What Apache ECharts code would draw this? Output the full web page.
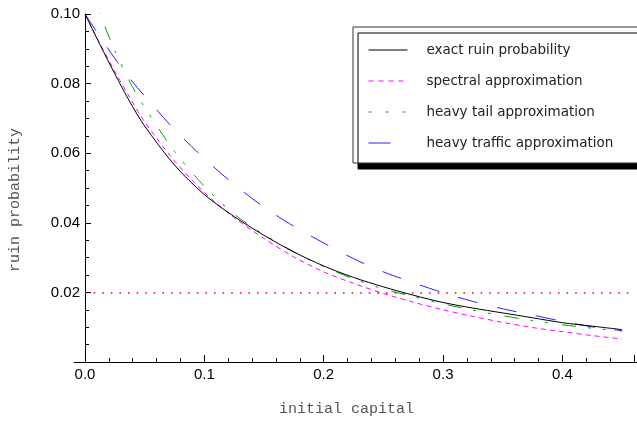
<!DOCTYPE html>
<html>
<head>
<meta charset="utf-8">
<script src="https://cdn.jsdelivr.net/npm/echarts@6/dist/echarts.min.js"></script>
<style>
html,body{margin:0;padding:0;background:#fff;}
#chart{width:637px;height:422px;}
</style>
</head>
<body>
<div id="chart"></div>
<script>
// ---- data ----
const capital = [0, 0.0125, 0.025, 0.0375, 0.05, 0.075, 0.1, 0.125, 0.15, 0.175, 0.2, 0.225, 0.25, 0.275, 0.3, 0.325, 0.35, 0.375, 0.4, 0.425, 0.45];
const exactRuin = [0.1, 0.0912, 0.0828, 0.0748, 0.0678, 0.0566, 0.0481, 0.0418, 0.0364, 0.0316, 0.0276, 0.0243, 0.0216, 0.0192, 0.0171, 0.0155, 0.0141, 0.0127, 0.0113, 0.0103, 0.0093];
const spectralApprox = [0.1, 0.0915, 0.0835, 0.076, 0.069, 0.0578, 0.0487, 0.0415, 0.0355, 0.0302, 0.0259, 0.0226, 0.0197, 0.0172, 0.015, 0.0131, 0.0114, 0.0099, 0.0087, 0.0076, 0.0066];
const heavyTailApprox = [0.112, 0.1, 0.0895, 0.0805, 0.0732, 0.0605, 0.0505, 0.0425, 0.0366, 0.0317, 0.0274, 0.0239, 0.021, 0.0188, 0.0167, 0.0149, 0.0133, 0.0119, 0.0107, 0.0097, 0.0089];
const heavyTrafficApprox = [0.1, 0.0935, 0.0872, 0.0815, 0.0764, 0.0668, 0.0585, 0.051, 0.0445, 0.039, 0.0342, 0.0297, 0.0259, 0.0228, 0.0199, 0.0174, 0.0153, 0.0135, 0.0117, 0.0101, 0.009];
const seriesNames = ['exact ruin probability', 'spectral approximation', 'heavy tail approximation', 'heavy traffic approximation'];
const threshold = 0.02;
const xTickLabels = ['0.0', '0.1', '0.2', '0.3', '0.4'];
const yTickLabels = ['0.02', '0.04', '0.06', '0.08', '0.10'];

function pairs(ys){ return capital.map((x,i)=>[x, ys[i]]); }

const chart = echarts.init(document.getElementById('chart'), null, {renderer:'canvas'});
const tickFont = {fontFamily:'Liberation Sans', fontSize:15, color:'#000'};
const nameFont = {fontFamily:'Liberation Mono', fontSize:15, color:'#555'};
const hideSym = {opacity:0, borderWidth:0};

chart.setOption({
  animation:false,
  backgroundColor:'#fff',
  grid:[
    {left:85, right:0, top:14, bottom:60, containLabel:false},
    {left:74, right:0, top:14, bottom:60, containLabel:false}
  ],
  xAxis:[{
    type:'value', gridIndex:0, min:0, max:0.46, interval:0.1,
    name:'initial capital', nameLocation:'middle', nameGap:40,
    nameTextStyle:Object.assign({padding:[0,26,0,0]}, nameFont),
    axisLine:{show:false},
    axisTick:{show:true, inside:true, length:7, lineStyle:{color:'#000'}},
    minorTick:{show:true, splitNumber:5, length:4, lineStyle:{color:'#000'}},
    splitLine:{show:false}, minorSplitLine:{show:false},
    axisLabel:Object.assign({margin:5, formatter:function(v){
      const i = Math.round(v*10);
      return (Math.abs(v*10 - i) < 1e-6 && i < xTickLabels.length) ? xTickLabels[i] : '';
    }}, tickFont)
  },{
    type:'value', gridIndex:1, min:0, max:1,
    axisLine:{show:true, lineStyle:{color:'#000', width:1}},
    axisTick:{show:false}, axisLabel:{show:false}, splitLine:{show:false}
  }],
  yAxis:[{
    type:'value', gridIndex:0, min:0, max:0.1, interval:0.02,
    name:'ruin probability', nameLocation:'middle', nameGap:62,
    nameTextStyle:Object.assign({padding:[0,24,0,0]}, nameFont),
    axisLine:{show:true, onZero:false, lineStyle:{color:'#000', width:1}},
    axisTick:{show:true, inside:true, length:6, lineStyle:{color:'#000'}},
    minorTick:{show:true, splitNumber:4, length:4, lineStyle:{color:'#000'}},
    splitLine:{show:false}, minorSplitLine:{show:false},
    axisLabel:Object.assign({margin:5, formatter:function(v){
      const i = Math.round(v/0.02) - 1;
      return (i >= 0 && i < yTickLabels.length) ? yTickLabels[i] : '';
    }}, tickFont)
  },{
    type:'value', gridIndex:1, show:false, min:0, max:1
  }],
  legend:{
    orient:'vertical', left:353, top:27,
    padding:[16,30,13,15],
    itemWidth:39, itemHeight:14, itemGap:17,
    backgroundColor:'#fff', borderColor:'#333', borderWidth:1,
    shadowColor:'#000', shadowBlur:0, shadowOffsetX:5, shadowOffsetY:6,
    itemStyle:hideSym,
    textStyle:{fontFamily:'DejaVu Sans', fontSize:13.5, color:'#222', padding:[0,0,0,14]},
    data:[
      {name:seriesNames[0], itemStyle:hideSym, lineStyle:{color:'#000', width:1, type:'solid'}},
      {name:seriesNames[1], itemStyle:hideSym, lineStyle:{color:'#ff00ff', width:1, type:[5,5]}},
      {name:seriesNames[2], itemStyle:hideSym, lineStyle:{color:'#00a000', width:1, type:[3,14]}},
      {name:seriesNames[3], itemStyle:hideSym, lineStyle:{color:'#2222ff', width:1, type:[22,40]}}
    ]
  },
  series:[
    {
      name:seriesNames[0], type:'line', xAxisIndex:0, yAxisIndex:0,
      data:pairs(exactRuin), symbol:'none', showSymbol:false, smooth:0.3, clip:true,
      lineStyle:{color:'#000', width:1},
      itemStyle:{color:'#000'},
      markLine:{
        silent:true, symbol:['none','none'], label:{show:false},
        lineStyle:{color:'#ff0000', width:1.6, type:[1.6,7]},
        data:[{yAxis:threshold}]
      },
      z:5
    },
    {
      name:seriesNames[1], type:'line', xAxisIndex:0, yAxisIndex:0,
      data:pairs(spectralApprox), symbol:'none', showSymbol:false, smooth:0.3, clip:true,
      lineStyle:{color:'#ff00ff', width:1, type:[5,4]},
      itemStyle:{color:'#ff00ff'}
    },
    {
      name:seriesNames[2], type:'line', xAxisIndex:0, yAxisIndex:0,
      data:pairs(heavyTailApprox), symbol:'none', showSymbol:false, smooth:0.3, clip:true,
      lineStyle:{color:'#00a000', width:1, type:[14,12,3,12,3,14]},
      itemStyle:{color:'#00a000'}
    },
    {
      name:seriesNames[3], type:'line', xAxisIndex:0, yAxisIndex:0,
      data:pairs(heavyTrafficApprox), symbol:'none', showSymbol:false, smooth:0.3, clip:true,
      lineStyle:{color:'#2222ff', width:1, type:[20,20]},
      itemStyle:{color:'#2222ff'}
    }
  ]
});
</script>
</body>
</html>
